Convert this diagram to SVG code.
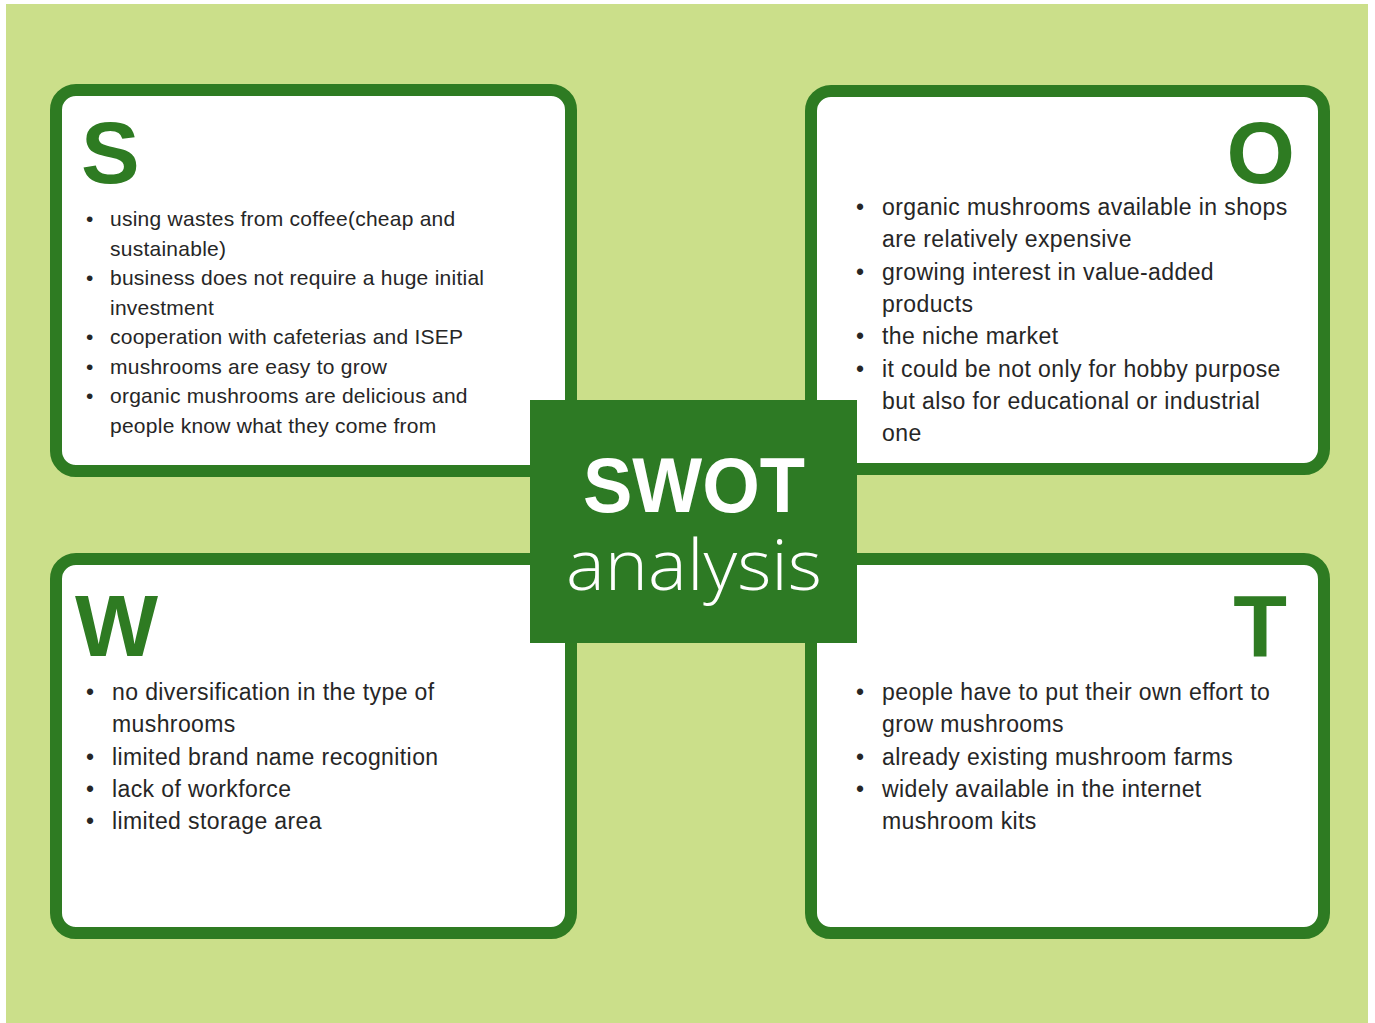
<svg xmlns="http://www.w3.org/2000/svg" width="1375" height="1023" viewBox="0 0 1375 1023">
<style>
.box{fill:#ffffff;stroke:#2e7b22;stroke-width:12}
.letter{font-family:"Liberation Sans",Arial,sans-serif;font-weight:bold;font-size:88px;fill:#2e7b22}
.s{font-family:"Liberation Sans",Arial,sans-serif;font-size:21px;letter-spacing:0.25px;fill:#262626}
.b{font-family:"Liberation Sans",Arial,sans-serif;font-size:23px;letter-spacing:0.4px;fill:#262626}
</style>
<rect x="0" y="0" width="1375" height="1023" fill="#ffffff"/>
<rect x="6" y="4" width="1362" height="1019" fill="#cbdf8a"/>
<g id="strengths">
<rect class="box" x="56" y="90" width="515" height="381" rx="20"/>
<text class="letter" x="81" y="183">S</text>
<text class="s"><tspan x="86" y="226">•</tspan><tspan x="110" y="226">using wastes from coffee(cheap and</tspan><tspan x="110" y="255.5">sustainable)</tspan><tspan x="86" y="285">•</tspan><tspan x="110" y="285">business does not require a huge initial</tspan><tspan x="110" y="314.5">investment</tspan><tspan x="86" y="344">•</tspan><tspan x="110" y="344">cooperation with cafeterias and ISEP</tspan><tspan x="86" y="373.5">•</tspan><tspan x="110" y="373.5">mushrooms are easy to grow</tspan><tspan x="86" y="403">•</tspan><tspan x="110" y="403">organic mushrooms are delicious and</tspan><tspan x="110" y="432.5">people know what they come from</tspan></text>
</g>
<g id="opportunities">
<rect class="box" x="811" y="91" width="513" height="378" rx="20"/>
<text class="letter" x="1295" y="183" text-anchor="end">O</text>
<text class="b"><tspan x="856" y="215">•</tspan><tspan x="882" y="215">organic mushrooms available in shops</tspan><tspan x="882" y="247.3">are relatively expensive</tspan><tspan x="856" y="279.6">•</tspan><tspan x="882" y="279.6">growing interest in value-added</tspan><tspan x="882" y="312">products</tspan><tspan x="856" y="344">•</tspan><tspan x="882" y="344">the niche market</tspan><tspan x="856" y="376.5">•</tspan><tspan x="882" y="376.5">it could be not only for hobby purpose</tspan><tspan x="882" y="409">but also for educational or industrial</tspan><tspan x="882" y="441">one</tspan></text>
</g>
<g id="weaknesses">
<rect class="box" x="56" y="559" width="515" height="374" rx="20"/>
<text class="letter" x="75" y="656">W</text>
<text class="b"><tspan x="86" y="700">•</tspan><tspan x="112" y="700">no diversification in the type of</tspan><tspan x="112" y="732.3">mushrooms</tspan><tspan x="86" y="764.6">•</tspan><tspan x="112" y="764.6">limited brand name recognition</tspan><tspan x="86" y="797">•</tspan><tspan x="112" y="797">lack of workforce</tspan><tspan x="86" y="829">•</tspan><tspan x="112" y="829">limited storage area</tspan></text>
</g>
<g id="threats">
<rect class="box" x="811" y="559" width="513" height="374" rx="20"/>
<text class="letter" x="1287" y="656" text-anchor="end">T</text>
<text class="b"><tspan x="856" y="700">•</tspan><tspan x="882" y="700">people have to put their own effort to</tspan><tspan x="882" y="732.3">grow mushrooms</tspan><tspan x="856" y="764.6">•</tspan><tspan x="882" y="764.6">already existing mushroom farms</tspan><tspan x="856" y="797">•</tspan><tspan x="882" y="797">widely available in the internet</tspan><tspan x="882" y="829">mushroom kits</tspan></text>
</g>
<g id="center">
<rect x="530" y="400" width="327" height="243" fill="#2d7a24"/>
<text x="694" y="512" text-anchor="middle" font-family="'Liberation Sans',Arial,sans-serif" font-weight="bold" font-size="78" fill="#ffffff" textLength="222" lengthAdjust="spacingAndGlyphs">SWOT</text>
<text x="694" y="590" text-anchor="middle" font-family="'Open Sans',sans-serif" font-weight="300" font-size="70" fill="#ffffff" textLength="256" lengthAdjust="spacingAndGlyphs">analysis</text>
</g>
<g id="connectors"/>
</svg>
